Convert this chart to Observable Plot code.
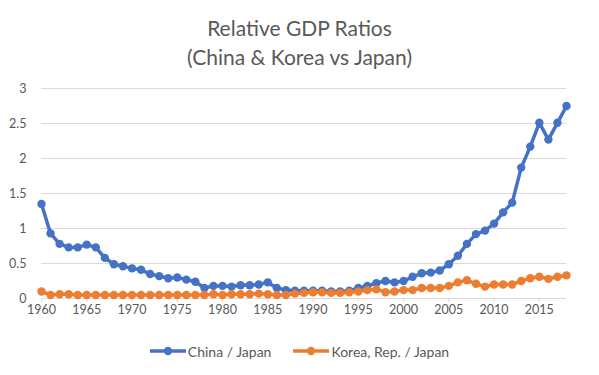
<!DOCTYPE html>
<html><head><meta charset="utf-8">
<script src="https://cdn.jsdelivr.net/npm/d3@7"></script>
<script src="https://cdn.jsdelivr.net/npm/@observablehq/plot@0.6"></script>
<style>
body{margin:0;background:#fff;font-family:Lato, "Open Sans", sans-serif;width:599px;height:375px;overflow:hidden;}
#title{height:75px;box-sizing:border-box;padding-top:13px;text-align:center;color:#595959;font-size:21px;line-height:29px;white-space:nowrap;}
#chart svg{display:block;}
#legend{display:flex;justify-content:center;align-items:center;margin-top:21px;height:20px;color:#595959;font-size:14px;}
.item{display:flex;align-items:center;margin:0 11px;}
.item svg{margin-right:2px;}
</style></head>
<body>
<div id="title"><div>Relative GDP Ratios</div><div>(China &amp; Korea vs Japan)</div></div>
<div id="chart"></div>
<div id="legend"></div>
<script>
const years = [1960,1961,1962,1963,1964,1965,1966,1967,1968,1969,
1970,1971,1972,1973,1974,1975,1976,1977,1978,1979,
1980,1981,1982,1983,1984,1985,1986,1987,1988,1989,
1990,1991,1992,1993,1994,1995,1996,1997,1998,1999,
2000,2001,2002,2003,2004,2005,2006,2007,2008,2009,
2010,2011,2012,2013,2014,2015,2016,2017,2018];
const chinaJapan = [1.35,0.93,0.78,0.73,0.73,0.77,0.73,0.58,0.49,0.46,
0.43,0.41,0.35,0.32,0.29,0.30,0.27,0.24,0.15,0.18,
0.18,0.17,0.19,0.19,0.20,0.23,0.15,0.12,0.11,0.11,
0.11,0.11,0.10,0.10,0.11,0.15,0.18,0.22,0.25,0.23,
0.25,0.31,0.36,0.37,0.40,0.49,0.61,0.78,0.92,0.97,
1.07,1.23,1.37,1.87,2.17,2.51,2.27,2.51,2.75];
const koreaJapan = [0.10,0.05,0.06,0.06,0.05,0.05,0.05,0.05,0.05,0.05,
0.05,0.05,0.05,0.05,0.05,0.05,0.05,0.05,0.05,0.06,
0.05,0.06,0.06,0.06,0.07,0.06,0.05,0.05,0.07,0.08,
0.09,0.09,0.08,0.08,0.09,0.10,0.12,0.13,0.09,0.10,
0.12,0.12,0.15,0.15,0.15,0.18,0.23,0.26,0.21,0.17,
0.20,0.20,0.20,0.25,0.29,0.31,0.28,0.31,0.33];
const seriesNames = ["China / Japan", "Korea, Rep. / Japan"];
const seriesColors = ["#4472C4", "#ED7D31"];
const xTicks = [1960,1965,1970,1975,1980,1985,1990,1995,2000,2005,2010,2015];
const yTicks = [0,0.5,1,1.5,2,2.5,3];

const series = [chinaJapan, koreaJapan].map((vals, s) =>
  years.map((yr, i) => ({year: yr, value: vals[i], name: seriesNames[s]})));

const marks = [
  Plot.gridY(yTicks, {stroke: "#d9d9d9", strokeOpacity: 1}),
  Plot.ruleY([0], {stroke: "#d9d9d9"}),
  Plot.axisX({ticks: xTicks, tickSize: 4, tickPadding: 3, stroke: "#d9d9d9", fill: "#595959", tickFormat: d => String(d), label: null}),
  Plot.axisY({ticks: yTicks, tickSize: 0, tickPadding: 15, fill: "#595959", tickFormat: d => String(d), label: null})
];
series.forEach((data, s) => {
  marks.push(Plot.line(data, {x: "year", y: "value", stroke: seriesColors[s], strokeWidth: 3.5, strokeLinejoin: "round"}));
  marks.push(Plot.dot(data, {x: "year", y: "value", fill: seriesColors[s], r: 4.2, stroke: "none"}));
});

const chart = Plot.plot({
  width: 599, height: 245,
  marginTop: 13, marginBottom: 22, marginLeft: 41, marginRight: 33,
  style: {fontFamily: "Lato, 'Open Sans', sans-serif", fontSize: "12.5px", color: "#595959", background: "#fff"},
  x: {domain: [1960, 2018]},
  y: {domain: [0, 3]},
  marks
});
document.getElementById("chart").appendChild(chart);

const legend = document.getElementById("legend");
seriesNames.forEach((n, s) => {
  const item = document.createElement("div");
  item.className = "item";
  item.innerHTML = `<svg width="36" height="10"><line x1="0" x2="36" y1="5" y2="5" stroke="${seriesColors[s]}" stroke-width="3.5"/><circle cx="18" cy="5" r="4.2" fill="${seriesColors[s]}"/></svg><span>${n}</span>`;
  legend.appendChild(item);
});
</script>
</body></html>
